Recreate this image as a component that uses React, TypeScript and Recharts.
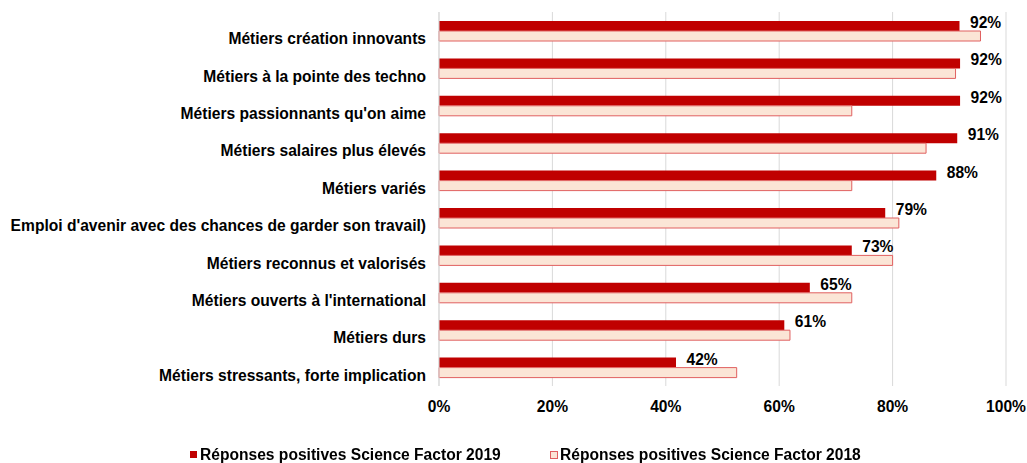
import React from "react";
import { BarChart, Bar, XAxis, YAxis, CartesianGrid, Legend, LabelList } from "recharts";

const categories = [
  "Métiers création innovants",
  "Métiers à la pointe des techno",
  "Métiers passionnants qu'on aime",
  "Métiers salaires plus élevés",
  "Métiers variés",
  "Emploi d'avenir avec des chances de garder son travail)",
  "Métiers reconnus et valorisés",
  "Métiers ouverts à l'international",
  "Métiers durs",
  "Métiers stressants, forte implication",
];
const values2019 = [91.8, 91.9, 91.9, 91.4, 87.7, 78.7, 72.8, 65.4, 60.9, 41.8];
const values2018 = [95.5, 91.1, 72.8, 85.9, 72.8, 81.1, 80.0, 72.8, 61.9, 52.5];
const xTicks = [0, 20, 40, 60, 80, 100];
const seriesNames = ["Réponses positives Science Factor 2019", "Réponses positives Science Factor 2018"];

const data = categories.map((c, i) => ({ cat: c, v2019: values2019[i], v2018: values2018[i] }));

const FONT = "'Liberation Sans', Arial, sans-serif";
const FS = 15.6;
const C2019 = "#C00000";
const F2018 = "#FBE5D6";
const S2018 = "#E06060";

const CatTick = (props: any) => {
  const { x, y, payload } = props;
  return (
    <text x={x} y={y} dy={8} textAnchor="end" dominantBaseline="central" fontFamily={FONT} fontWeight="bold" fontSize={FS} fill="#000">
      {payload.value}
    </text>
  );
};

const ValueLabel = (props: any) => {
  const { x, y, width, height, value } = props;
  return (
    <text x={x + width + 10.5} y={y + height / 2 - 3.5} textAnchor="start" dominantBaseline="central" fontFamily={FONT} fontWeight="bold" fontSize={FS} fill="#000">
      {`${Math.round(value)}%`}
    </text>
  );
};

const LegendContent = () => (
  <div style={{ position: "relative", width: 1027, height: 20, fontFamily: FONT, fontWeight: "bold", fontSize: FS, color: "#000" }}>
    <div style={{ position: "absolute", left: 190, top: 7, width: 7, height: 7, background: C2019 }} />
    <div style={{ position: "absolute", left: 200, top: 1, whiteSpace: "nowrap", lineHeight: "19px" }}>{seriesNames[0]}</div>
    <div style={{ position: "absolute", left: 550, top: 7, width: 6, height: 6, background: F2018, border: `1px solid ${S2018}`, boxSizing: "content-box" }} />
    <div style={{ position: "absolute", left: 560, top: 1, whiteSpace: "nowrap", lineHeight: "19px" }}>{seriesNames[1]}</div>
  </div>
);

export default function App() {
  return (
    <div style={{ position: "fixed", top: 0, left: 0, width: 1027, height: 463, background: "#fff" }}>
      <BarChart
        width={1027}
        height={463}
        data={data}
        layout="vertical"
        margin={{ top: 12, right: 21, bottom: 47, left: 0 }}
        barGap={0}
        barSize={10}
      >
        <CartesianGrid horizontal={false} vertical={true} stroke="#D9D9D9" />
        <XAxis
          type="number"
          domain={[0, 100]}
          ticks={xTicks}
          tickFormatter={(v: number) => `${v}%`}
          axisLine={false}
          tickLine={false}
          tickSize={0}
          tickMargin={15}
          height={30}
          tick={{ fontFamily: FONT, fontWeight: "bold", fontSize: FS, fill: "#000" }}
          interval={0}
        />
        <YAxis
          type="category"
          dataKey="cat"
          width={439}
          axisLine={{ stroke: "#D9D9D9" }}
          tickLine={false}
          tickSize={0}
          tickMargin={13}
          tick={<CatTick />}
          interval={0}
        />
        <Legend verticalAlign="middle" align="center" layout="horizontal" wrapperStyle={{ top: 444, left: 0, width: 1027 }} content={<LegendContent />} />
        <Bar dataKey="v2019" name={seriesNames[0]} fill={C2019} isAnimationActive={false}>
          <LabelList dataKey="v2019" content={<ValueLabel />} />
        </Bar>
        <Bar dataKey="v2018" name={seriesNames[1]} fill={F2018} stroke={S2018} strokeWidth={1} isAnimationActive={false} />
      </BarChart>
    </div>
  );
}
